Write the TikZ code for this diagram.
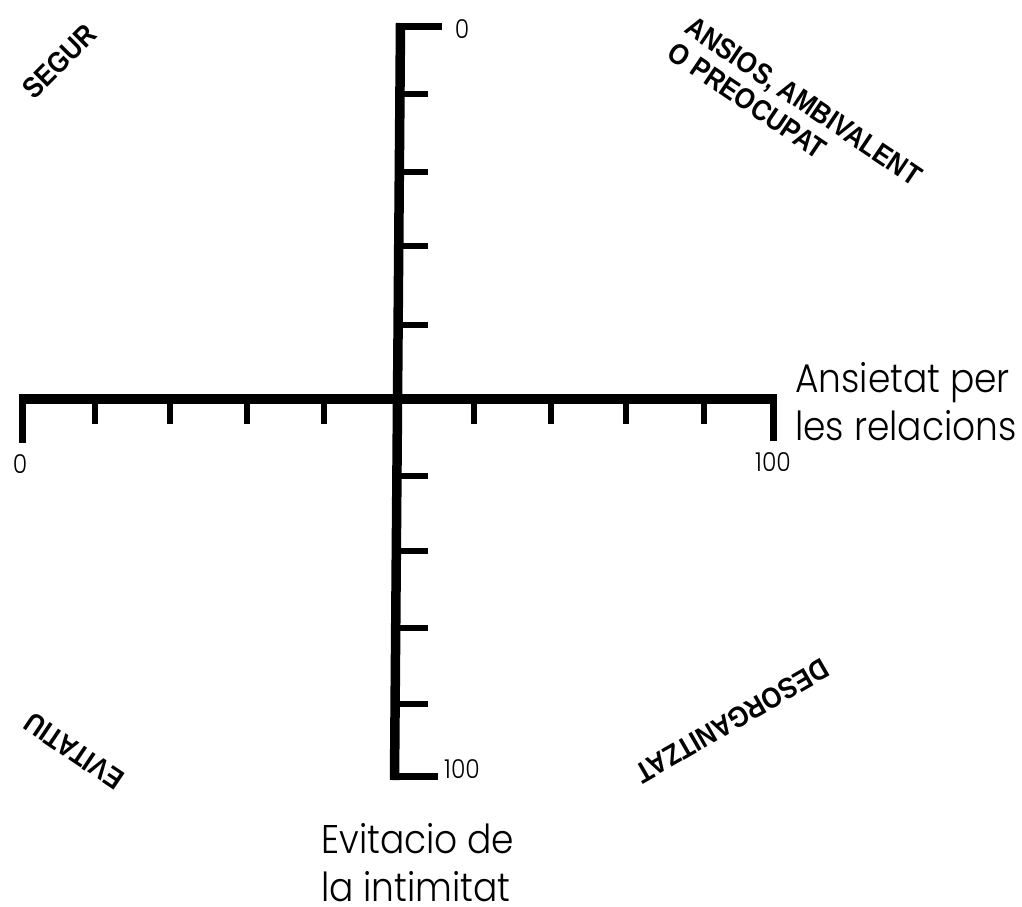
\documentclass[tikz,border=0pt]{standalone}
\usepackage{fontspec}
\setmainfont{Poppins}[UprightFont=* Light,FakeStretch=0.9]
\newfontfamily\cornerfont{Liberation Sans}[FakeStretch=0.88]
\usepackage{tikz}
\usetikzlibrary{positioning}

\begin{document}
\begin{tikzpicture}[x=1pt,y=-1pt]
  \tikzstyle{axis} = [line width=9.5pt]
  \tikzstyle{tick} = [line width=6pt]
  \tikzstyle{endtick} = [line width=7pt]
  \tikzstyle{corner} = [font=\cornerfont\bfseries\fontsize{29}{31}\selectfont,inner sep=0pt,align=left]
  \tikzstyle{axislabel} = [font=\fontsize{40}{48}\selectfont,inner sep=0pt,align=left]
  \tikzstyle{num} = [font=\fontsize{26}{30}\selectfont,inner sep=0pt]

  \useasboundingbox (0,0) rectangle (1022,906);

  % axes
  \coordinate (Left) at (19,399);
  \coordinate (Right) at (777,399);
  \coordinate (Top) at (400.5,23);
  \coordinate (Bottom) at (394.5,780);
  \draw[axis] (Left) -- (Right);
  \draw[axis] (Top) -- (Bottom);

  % ticks
  \foreach \x in {95,170,247,323.5,474,551,626,704}
    \draw[tick] (\x,399) -- (\x,424);
  \foreach \y in {93.5,172,246,325,476,551,628,704}
    \draw[tick] (398,\y) -- (428,\y);
  \draw[endtick] (22.5,399) -- (22.5,443);
  \draw[endtick] (773.5,399) -- (773.5,441);
  \draw[endtick] (399,26.5) -- (442,26.5);
  \draw[endtick] (396,776.5) -- (438,776.5);

  % scale numbers
  \node[num] (yzero) at (462,29) {0};
  \node[num] (yhundred) at (462,769) {100};
  \node[num] (xzero) at (20,464) {0};
  \node[num] (xhundred) at (773,462) {100};

  % axis titles
  \node[axislabel,anchor=west] (ansietat) at (795,402) {Ansietat per\\les relacions};
  \node[axislabel,anchor=west] (evitacio) at (321,863) {Evitacio de\\la intimitat};

  % quadrants
  \node[corner,rotate=45] (segur) at (59.5,61.5) {SEGUR};
  \node[corner,rotate=-34] (ansios) at (795,114) {ANSIOS, AMBIVALENT\\O PREOCUPAT};
  \node[corner,rotate=210] (desorg) at (732,721) {DESORGANITZAT};
  \node[corner,rotate=146] (evitatiu) at (74,751) {EVITATIU};

\end{tikzpicture}
\end{document}
